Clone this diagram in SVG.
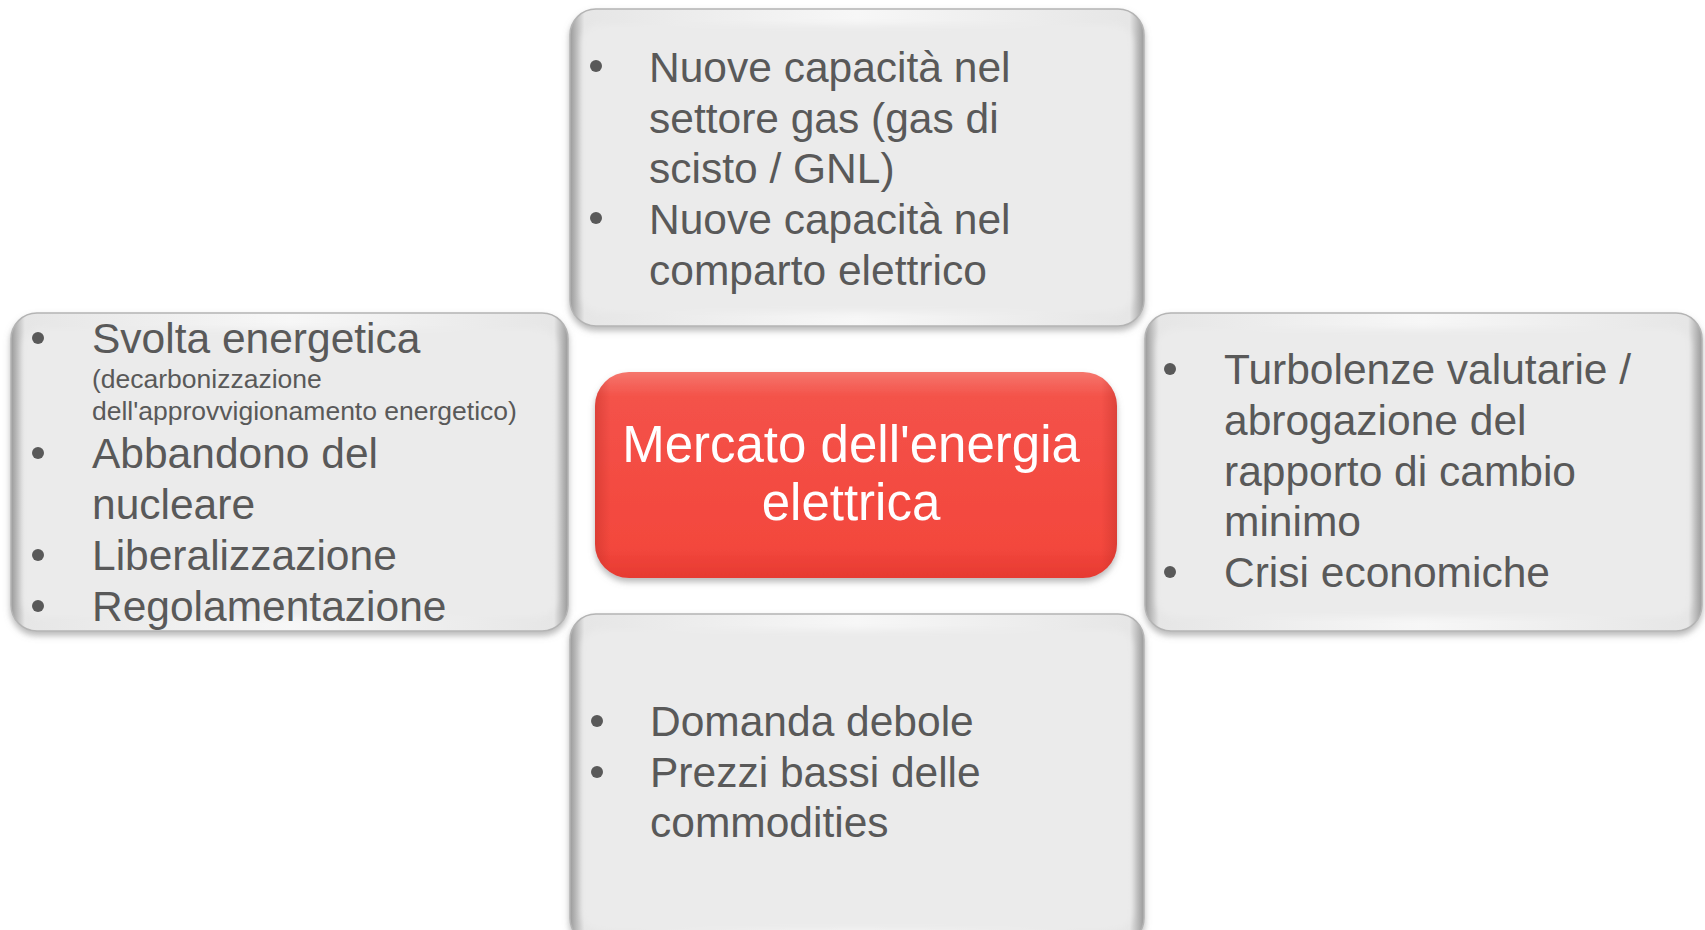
<svg xmlns="http://www.w3.org/2000/svg" width="1705" height="930" viewBox="0 0 1705 930">
<defs>
<filter id="sh" x="-5%" y="-5%" width="110%" height="115%">
<feDropShadow dx="0" dy="4" stdDeviation="3" flood-color="#7f7f7f" flood-opacity="0.55"/>
</filter>
<filter id="soft" x="-5%" y="-5%" width="110%" height="110%">
<feGaussianBlur stdDeviation="3"/>
</filter>
<linearGradient id="edge" x1="0" y1="0" x2="1" y2="0">
<stop offset="0" stop-color="#9a9a9a"/>
<stop offset="0.025" stop-color="#e6e6e6"/>
<stop offset="0.5" stop-color="#f7f7f7"/>
<stop offset="0.975" stop-color="#e6e6e6"/>
<stop offset="1" stop-color="#9a9a9a"/>
</linearGradient>
<linearGradient id="red" x1="0" y1="0" x2="0" y2="1">
<stop offset="0" stop-color="#f5766d"/>
<stop offset="0.12" stop-color="#f45249"/>
<stop offset="0.85" stop-color="#f3473d"/>
<stop offset="1" stop-color="#e63a31"/>
</linearGradient>
<linearGradient id="redside" x1="0" y1="0" x2="1" y2="0">
<stop offset="0" stop-color="#c03029" stop-opacity="0.45"/>
<stop offset="0.03" stop-color="#c03029" stop-opacity="0"/>
<stop offset="0.97" stop-color="#c03029" stop-opacity="0"/>
<stop offset="1" stop-color="#c03029" stop-opacity="0.45"/>
</linearGradient>
</defs>
<style>
.outer{fill:url(#edge);stroke:#b4b4b4;stroke-width:1.5}
.inner{fill:#ebebeb}
.t{font-family:"Liberation Sans",Arial,sans-serif;fill:#595959;font-size:42.5px}
.s{font-size:26.5px}
.b{fill:#595959}
.c{font-family:"Liberation Sans",Arial,sans-serif;fill:#ffffff;font-size:51px;text-anchor:middle}
</style>
<rect width="1705" height="930" fill="#ffffff"/>
<g id="connectors"></g>

<g id="top">
<rect class="outer" x="570" y="9" width="574" height="317" rx="26" filter="url(#sh)"/>
<rect class="inner" x="582" y="25" width="550" height="287" rx="18" filter="url(#soft)"/>
<circle class="b" cx="596" cy="66" r="6"/>
<circle class="b" cx="596" cy="218" r="6"/>
<text class="t" x="649" y="82">Nuove capacità nel</text>
<text class="t" x="649" y="133">settore gas (gas di</text>
<text class="t" x="649" y="183">scisto / GNL)</text>
<text class="t" x="649" y="234">Nuove capacità nel</text>
<text class="t" x="649" y="285">comparto elettrico</text>
</g>

<g id="left">
<rect class="outer" x="11" y="313" width="557" height="318" rx="26" filter="url(#sh)"/>
<rect class="inner" x="23" y="329" width="533" height="288" rx="18" filter="url(#soft)"/>
<circle class="b" cx="38" cy="338" r="6"/>
<circle class="b" cx="38" cy="453" r="6"/>
<circle class="b" cx="38" cy="555" r="6"/>
<circle class="b" cx="38" cy="606" r="6"/>
<text class="t" x="92" y="353">Svolta energetica</text>
<text class="t s" x="92" y="388">(decarbonizzazione</text>
<text class="t s" x="92" y="420">dell'approvvigionamento energetico)</text>
<text class="t" x="92" y="468">Abbandono del</text>
<text class="t" x="92" y="519">nucleare</text>
<text class="t" x="92" y="570">Liberalizzazione</text>
<text class="t" x="92" y="621">Regolamentazione</text>
</g>

<g id="right">
<rect class="outer" x="1145" y="313" width="557" height="318" rx="26" filter="url(#sh)"/>
<rect class="inner" x="1157" y="329" width="533" height="288" rx="18" filter="url(#soft)"/>
<circle class="b" cx="1170" cy="369" r="6"/>
<circle class="b" cx="1170" cy="572" r="6"/>
<text class="t" x="1224" y="384">Turbolenze valutarie /</text>
<text class="t" x="1224" y="435">abrogazione del</text>
<text class="t" x="1224" y="486">rapporto di cambio</text>
<text class="t" x="1224" y="536">minimo</text>
<text class="t" x="1224" y="587">Crisi economiche</text>
</g>

<g id="bottom">
<rect class="outer" x="570" y="614" width="574" height="330" rx="26" filter="url(#sh)"/>
<rect class="inner" x="582" y="630" width="550" height="300" rx="18" filter="url(#soft)"/>
<circle class="b" cx="597" cy="721" r="6"/>
<circle class="b" cx="597" cy="772" r="6"/>
<text class="t" x="650" y="736">Domanda debole</text>
<text class="t" x="650" y="787">Prezzi bassi delle</text>
<text class="t" x="650" y="837">commodities</text>
</g>

<g id="center">
<rect x="595" y="372" width="522" height="206" rx="34" fill="url(#red)" filter="url(#sh)"/>
<rect x="595" y="372" width="522" height="206" rx="34" fill="url(#redside)"/>
<text class="c" x="851" y="462">Mercato dell'energia</text>
<text class="c" x="851" y="520">elettrica</text>
</g>
</svg>
